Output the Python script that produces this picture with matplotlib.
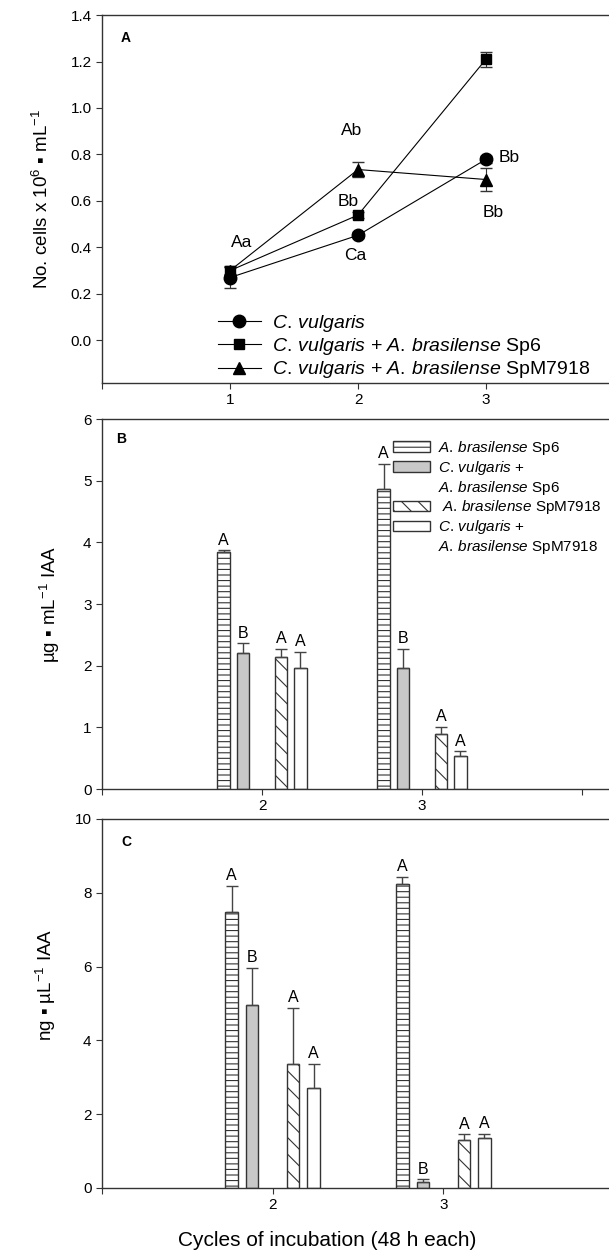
import numpy as np
import matplotlib.pyplot as plt
from matplotlib.patches import Patch
from matplotlib.lines import Line2D

plt.rcParams['font.family'] = ['Liberation Sans', 'DejaVu Sans']
plt.rcParams['mathtext.fontset'] = 'custom'
plt.rcParams['mathtext.rm'] = 'Liberation Sans'
plt.rcParams['mathtext.it'] = 'Liberation Sans:italic'
plt.rcParams['mathtext.bf'] = 'Liberation Sans:bold'
plt.rcParams['hatch.linewidth'] = 0.8
plt.rcParams['hatch.color'] = '#333333'

# panel A - cell counts
cycles_a = [1, 2, 3]
cv = [0.27, 0.452, 0.779]
cv_err = [0.045, 0.012, 0.015]
cv_sp6 = [0.30, 0.539, 1.21]
cv_sp6_err = [0.015, 0.012, 0.032]
cv_m = [0.30, 0.735, 0.692]
cv_m_err = [0.02, 0.032, 0.048]
a_letters = [('Aa', 1.09, 0.42), ('Ab', 1.95, 0.905), ('Bb', 1.92, 0.598),
             ('Ca', 1.98, 0.366), ('Bb', 3.18, 0.785), ('Bb', 3.06, 0.552)]

# panel B and C - IAA
cycles_bc = [2, 3]
b_vals = [[3.84, 4.86], [2.2, 1.97], [2.14, 0.90], [1.97, 0.54]]
b_err = [[0.03, 0.41], [0.16, 0.30], [0.13, 0.11], [0.25, 0.07]]
b_let = [['A', 'A'], ['B', 'B'], ['A', 'A'], ['A', 'A']]
c_vals = [[7.49, 8.25], [4.95, 0.15], [3.35, 1.29], [2.72, 1.36]]
c_err = [[0.70, 0.17], [1.01, 0.08], [1.54, 0.16], [0.65, 0.10]]
c_let = [['A', 'A'], ['B', 'B'], ['A', 'A'], ['A', 'A']]

labels_a = [r'$\mathit{C.\,vulgaris}$',
            r'$\mathit{C.\,vulgaris}$ + $\mathit{A.\,brasilense}$ Sp6',
            r'$\mathit{C.\,vulgaris}$ + $\mathit{A.\,brasilense}$ SpM7918']
# two-line entries are split so the swatch sits on the first line
labels_bc = [r'$\mathit{A.\,brasilense}$ Sp6',
             r'$\mathit{C.\,vulgaris}$ +', r'$\mathit{A.\,brasilense}$ Sp6',
             r' $\mathit{A.\,brasilense}$ SpM7918',
             r'$\mathit{C.\,vulgaris}$ +', r'$\mathit{A.\,brasilense}$ SpM7918']

offsets = [-0.24, -0.12, 0.12, 0.24]
fills = ['white', '#c8c8c8', 'white', 'white']
hatches = ['---', None, '\\\\', None]

fig = plt.figure(figsize=(6.09, 12.53), dpi=100)
axA = fig.add_axes([0.1675, 0.6943, 0.8407, 0.2937])
axB = fig.add_axes([0.1675, 0.3703, 0.8407, 0.2953])
axC = fig.add_axes([0.1675, 0.0519, 0.8407, 0.2945])

for ax in (axA, axB, axC):
    ax.spines['right'].set_visible(False)
    for s in ('left', 'top', 'bottom'):
        ax.spines[s].set_color('#333333')
        ax.spines[s].set_linewidth(1)
    ax.tick_params(direction='out', length=4, width=0.8, labelsize=11, color='#333333')

# ---- A
for y, e, m, ms in [(cv, cv_err, 'o', 9), (cv_sp6, cv_sp6_err, 's', 7.5), (cv_m, cv_m_err, '^', 8.5)]:
    axA.errorbar(cycles_a, y, yerr=e, color='black', marker=m, ms=ms, lw=0.8,
                 elinewidth=0.8, capsize=4, ecolor='#333333')
for t, x, y in a_letters:
    axA.text(x, y, t, fontsize=12.5, ha='center', va='center')
axA.set_xlim(0, 4)
axA.set_ylim(-0.184, 1.4)
axA.set_xticks([0, 1, 2, 3])
axA.set_xticklabels(['', '1', '2', '3'])
axA.set_yticks(np.arange(0, 1.41, 0.2))
axA.set_yticklabels(['%.1f' % v for v in np.arange(0, 1.41, 0.2)])
axA.set_ylabel(r'No. cells x 10$^{6}$ ▪ mL$^{-1}$', fontsize=13.5)
axA.yaxis.set_label_coords(-0.098, 0.5)
axA.text(0.037, 0.9375, 'A', transform=axA.transAxes, fontsize=10, fontweight='bold', va='center')
handles = [Line2D([], [], color='black', lw=0.8, marker=m, ms=ms)
           for m, ms in [('o', 9), ('s', 7.5), ('^', 8.5)]]
axA.legend(handles, labels_a, loc='upper left', bbox_to_anchor=(0.2, 0.228), frameon=False,
           fontsize=14, handlelength=2.2, labelspacing=0.12, borderpad=0.2, handletextpad=0.6)


def bars(ax, vals, errs, lets, width):
    for i in range(4):
        xs = [c + offsets[i] for c in cycles_bc]
        ax.bar(xs, vals[i], width=width, color=fills[i], hatch=hatches[i],
               edgecolor='#333333', linewidth=1, zorder=2)
        ax.errorbar(xs, vals[i], yerr=[[0, 0], errs[i]], fmt='none', ecolor='#444444',
                    elinewidth=1, capsize=4, capthick=1, zorder=3)
        for x, v, e, t in zip(xs, vals[i], errs[i], lets[i]):
            ax.annotate(t, (x, v + e), xytext=(0, 2), textcoords='offset points',
                        ha='center', va='bottom', fontsize=11.5)


# ---- B
bars(axB, b_vals, b_err, b_let, 0.078)
axB.set_xlim(1, 4.2)
axB.set_ylim(0, 6)
axB.set_xticks([1, 2, 3, 4])
axB.set_xticklabels(['', '2', '3', ''])
axB.set_yticks(range(0, 7))
axB.set_ylabel(r'µg ▪ mL$^{-1}$ IAA', fontsize=13.5)
axB.yaxis.set_label_coords(-0.078, 0.5)
axB.text(0.028, 0.946, 'B', transform=axB.transAxes, fontsize=10, fontweight='bold', va='center')
blank = Patch(facecolor='none', edgecolor='none')
sw = [Patch(facecolor=fills[i], hatch=hatches[i], edgecolor='#333333') for i in range(4)]
leg_handles = [sw[0], sw[1], blank, sw[2], sw[3], blank]
axB.legend(leg_handles, labels_bc, loc='upper left', bbox_to_anchor=(0.548, 0.975), frameon=False,
           fontsize=11, handlelength=2.4, handleheight=0.7, labelspacing=0.12,
           borderpad=0.2, handletextpad=0.5)

# ---- C
bars(axC, c_vals, c_err, c_let, 0.073)
axC.set_xlim(1, 4)
axC.set_ylim(0, 10)
axC.set_xticks([1, 2, 3])
axC.set_xticklabels(['', '2', '3'])
axC.set_yticks(range(0, 11, 2))
axC.set_ylabel(r'ng ▪ µL$^{-1}$ IAA', fontsize=13.5)
axC.yaxis.set_label_coords(-0.085, 0.55)
axC.text(0.037, 0.938, 'C', transform=axC.transAxes, fontsize=10, fontweight='bold', va='center')

fig.text(0.537, 0.0096, 'Cycles of incubation (48 h each)', fontsize=15, ha='center', va='center')

fig.savefig('out.png', dpi=100)
